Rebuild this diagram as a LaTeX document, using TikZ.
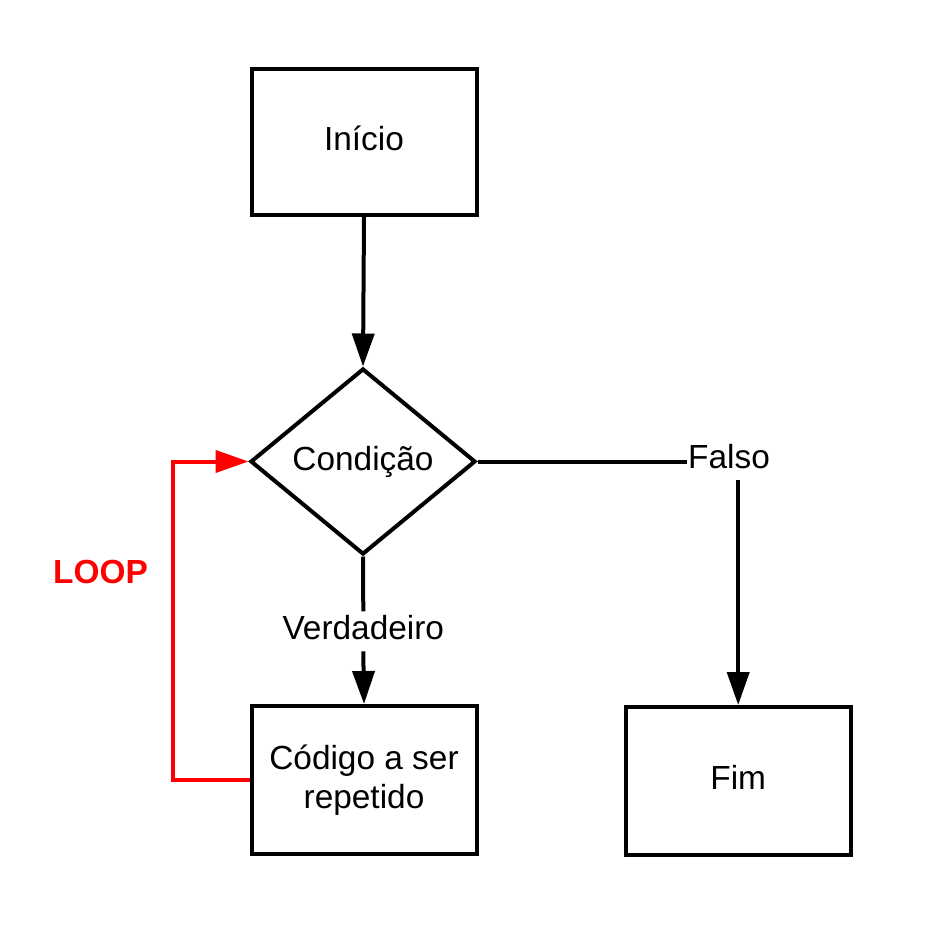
\documentclass[tikz,border=0pt]{standalone}
\usepackage{fontspec}
\setmainfont{Liberation Sans}
\usetikzlibrary{arrows.meta,shapes.geometric}
\begin{document}
\begin{tikzpicture}[x=1pt,y=-1pt,
  every node/.style={font=\fontsize{33.4}{39}\selectfont},
  boxnode/.style={draw, line width=4pt, minimum width=225pt, minimum height=148pt, inner sep=0pt, align=center},
  onelinebox/.style={boxnode, text height=24pt, text depth=8pt},
  decision/.style={draw, diamond, aspect=1, line width=4pt, minimum width=225pt, minimum height=186pt, inner sep=0pt},
  lbl/.style={anchor=base, text height=24pt, text depth=8pt, inner xsep=1.5pt, inner ysep=4pt, outer sep=0pt},
  flow/.style={line width=4pt, -{Triangle[length=33pt,width=22pt]}},
  loopflow/.style={flow, color=red}]
\useasboundingbox (0,0) rectangle (933,945);

\node[onelinebox, minimum height=146pt] (start) at (364,142) {Início};
\node[decision] (cond) at (363,461.5) {Condição};
\node[boxnode] (code) at (364,780) {Código a ser\\repetido};
\node[onelinebox] (fim) at (738.2,781) {Fim};

\node[lbl] (vlab) at (363.3,639.3) {Verdadeiro};
\node[lbl] (flab) at (729,468.3) {Falso};
\node[lbl, text=red, font=\fontsize{33.4}{39}\selectfont\bfseries] (loop) at (100.5,583) {LOOP};
\coordinate (lc) at (173,781);

\draw[flow] (start.south) -- (cond.north);
\draw[line width=4pt] (cond.south) -- (vlab.north);
\draw[flow] (vlab.south) -- (code.north);
\draw[line width=4pt] (cond.east) -- (cond.east -| flab.west);
\draw[flow] (flab.south -| fim.north) -- (fim.north);
\draw[loopflow] (code.west) -- (code.west -| lc) |- (cond.west);
\end{tikzpicture}
\end{document}
